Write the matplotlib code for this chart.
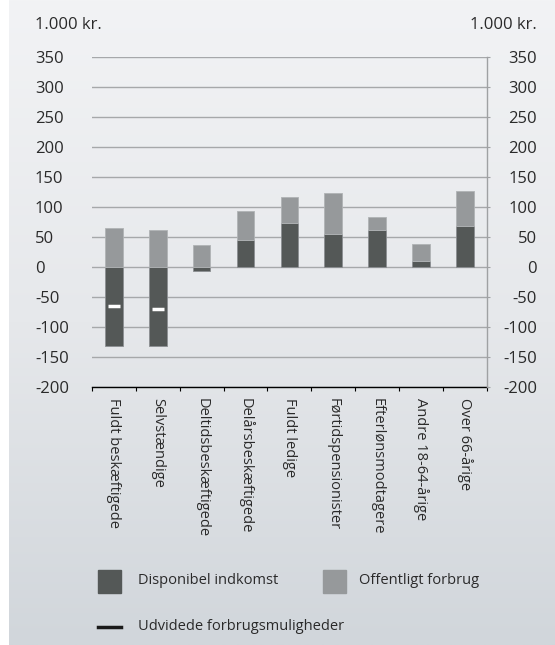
import matplotlib
matplotlib.use("Agg")
import matplotlib.pyplot as plt
import numpy as np
from matplotlib.patches import Rectangle
from matplotlib.lines import Line2D
from matplotlib.colors import LinearSegmentedColormap

categories = ["Fuldt beskæftigede", "Selvstændige", "Deltidsbeskæftigede",
              "Delårsbeskæftigede", "Fuldt ledige", "Førtidspensionister",
              "Efterlønsmodtagere", "Andre 18-64-årige", "Over 66-årige"]
disponibel = [-131, -131, -6, 45, 74, 55, 62, 10, 68]
offentligt = [65, 61, 36, 49, 42, 68, 22, 29, 58]
udvidede = [-65, -70, np.nan, np.nan, np.nan, np.nan, np.nan, np.nan, np.nan]
yticks = [350, 300, 250, 200, 150, 100, 50, 0, -50, -100, -150, -200]
unit_label = "1.000 kr."
legend_labels = ["Disponibel indkomst", "Offentligt forbrug", "Udvidede forbrugsmuligheder"]

plt.rcParams['font.family'] = ['Open Sans', 'DejaVu Sans']
plt.rcParams['axes.unicode_minus'] = False
TXT = '#2a2a2a'
DARK = '#545857'
LIGHT = '#96999b'
TICKFS = 12
CATFS = 10.5

W, H = 555, 645
fig = plt.figure(figsize=(W / 100, H / 100), dpi=100)
fig.patch.set_facecolor('white')

# background gradient
bg = fig.add_axes([9 / W, 0, 1 - 9 / W, 1])
cmap = LinearSegmentedColormap.from_list('bg', ['#f2f3f5', '#e6e8eb', '#d1d6db'])
bg.imshow(np.linspace(0, 1, 256).reshape(-1, 1), aspect='auto', cmap=cmap,
          extent=[0, 1, 0, 1], origin='upper')
bg.axis('off')

ax = fig.add_axes([92 / W, 1 - 387.3 / H, (486.7 - 92) / W, (387.3 - 56.7) / H])
ax.patch.set_alpha(0)
x = np.arange(len(categories))
disp = np.array(disponibel, dtype=float)
ax.bar(x, disp, 0.4, color=DARK, edgecolor='#8c8f92', linewidth=0.6, zorder=3)
ax.bar(x, offentligt, 0.4, bottom=np.maximum(disp, 0), color=LIGHT,
       edgecolor='#b0b3b5', linewidth=0.6, zorder=3)
ax.plot(x, udvidede, ls='none', marker='_', ms=9, mew=2.5, color='white', zorder=4)

ax.set_xlim(-0.5, len(categories) - 0.5)
ax.set_ylim(-200, 350)
ax.set_yticks(yticks)
ax.yaxis.grid(True, color='#a6a8aa', lw=1)
ax.set_axisbelow(True)
ax.tick_params(axis='y', left=False, length=0, pad=57 * 0.72, labelsize=TICKFS, labelcolor=TXT)
for lbl in ax.get_yticklabels():
    lbl.set_ha('left')

ax.set_xticks(np.arange(-0.5, len(categories), 1))
ax.set_xticklabels([])
ax.tick_params(axis='x', which='major', length=3, width=0.8, color='black', direction='out')
ax.set_xticks(x, minor=True)
ax.set_xticklabels(categories, minor=True, rotation=-90, fontsize=CATFS, color=TXT)
ax.tick_params(axis='x', which='minor', length=0, pad=8)

for s in ['left', 'top', 'right']:
    ax.spines[s].set_visible(False)
ax.spines['bottom'].set_color('black')
ax.spines['bottom'].set_linewidth(1)

ax2 = ax.twinx()
ax2.set_ylim(-200, 350)
ax2.set_yticks(yticks)
ax2.tick_params(axis='y', right=True, length=2.3, width=0.8, color='#a0a2a4',
                pad=47 * 0.72, labelsize=TICKFS, labelcolor=TXT)
for lbl in ax2.get_yticklabels():
    lbl.set_ha('right')
for s in ['left', 'top', 'bottom']:
    ax2.spines[s].set_visible(False)
ax2.spines['right'].set_color('#9fa1a3')
ax2.spines['right'].set_linewidth(1)

fig.text(35 / W, 1 - 25 / H, unit_label, ha='left', va='center', fontsize=TICKFS, color=TXT)
fig.text(537 / W, 1 - 25 / H, unit_label, ha='right', va='center', fontsize=TICKFS, color=TXT)

# legend
lg = fig.add_axes([0, 0, 1, 1])
lg.set_xlim(0, W)
lg.set_ylim(H, 0)
lg.axis('off')
lg.add_patch(Rectangle((98, 570), 23, 23, color=DARK))
lg.text(138, 581, legend_labels[0], va='center', ha='left', fontsize=CATFS, color=TXT)
lg.add_patch(Rectangle((323, 570), 23, 23, color=LIGHT))
lg.text(359, 581, legend_labels[1], va='center', ha='left', fontsize=CATFS, color=TXT)
lg.add_line(Line2D([98, 121], [626.5, 626.5], color='#1a1a1a', lw=2.5))
lg.text(138, 626, legend_labels[2], va='center', ha='left', fontsize=CATFS, color=TXT)

fig.savefig('out.png', dpi=100)
